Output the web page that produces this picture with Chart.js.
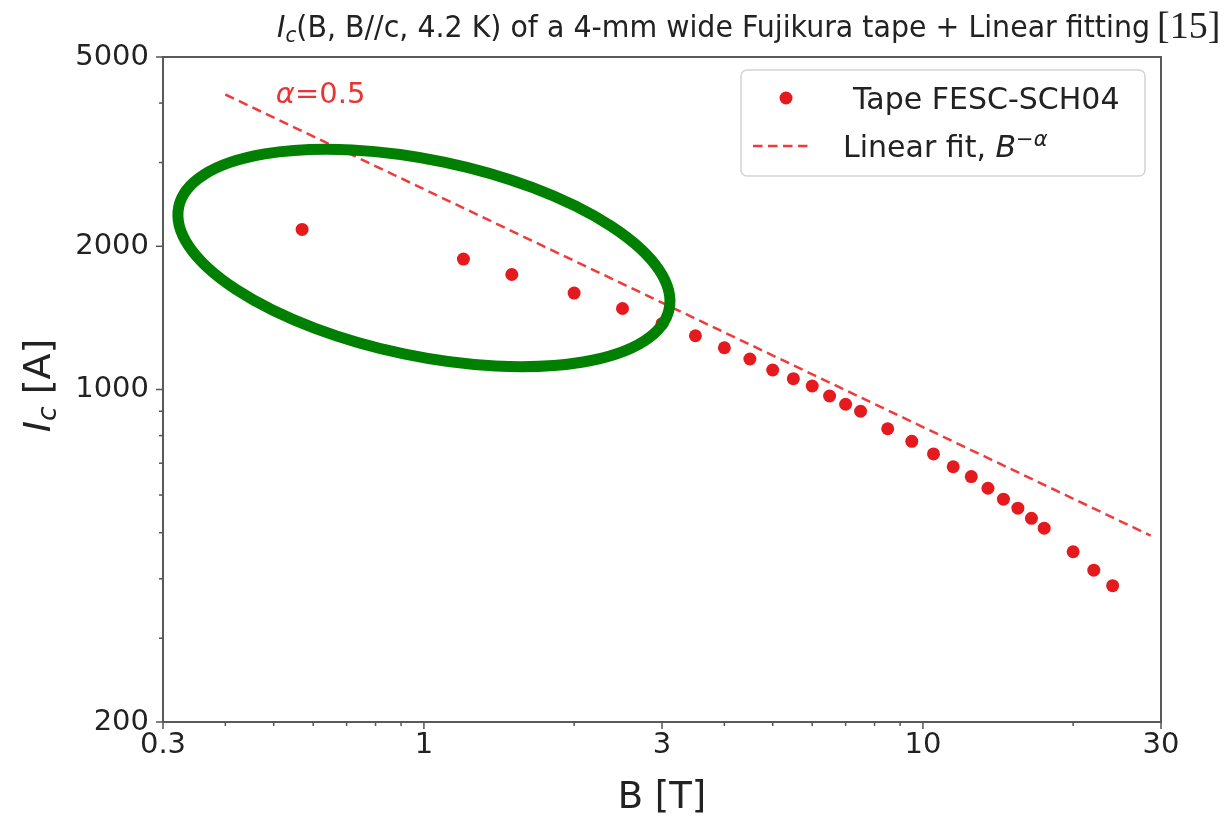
<!DOCTYPE html>
<html>
<head>
<meta charset="utf-8">
<script src="https://cdn.jsdelivr.net/npm/chart.js@4.4.1/dist/chart.umd.min.js"></script>
<style>
  html, body { margin: 0; padding: 0; background: #fff; }
  canvas { display: block; }
</style>
</head>
<body>
<canvas id="ic-chart" width="1226" height="816"></canvas>
<script>
// Ic(B) measured points, tape FESC-SCH04
const fieldB = [0.57, 1.2, 1.5, 2.0, 2.5, 3.0, 3.5, 4.0, 4.5, 5.0, 5.5, 6.0, 6.5, 7.0, 7.5,
                8.5, 9.5, 10.5, 11.5, 12.5, 13.5, 14.5, 15.5, 16.5, 17.5, 20, 22, 24];
const currentIc = [2170, 1880, 1745, 1595, 1480, 1375, 1297, 1224, 1159, 1099, 1054, 1017, 969, 931, 900,
                   827, 778, 732, 688, 656, 620, 588, 563, 536, 511, 456, 417, 387];

// linear fit in log-log, Ic ~ B^-alpha
const fitB = [0.4, 28.6];
const fitIc = [4170, 493];
const alphaText = '0.5';
const alphaLabelAt = [0.505, 4000];

// axes
const xTickLabels = [0.3, 1, 3, 10, 30];
const xMinorTicks = [0.4, 0.5, 0.6, 0.7, 0.8, 0.9, 2, 4, 5, 6, 7, 8, 9, 20];
const yTickLabels = [200, 1000, 2000, 5000];
const yMinorTicks = [300, 400, 500, 600, 700, 800, 900, 3000, 4000];

// green ring drawn over the low field points (centre in data units, radii in decades)
const ringCentre = [1.0, 1890];
const ringRadiusDecX = 0.502;
const ringRadiusDecY = 0.206;
const ringTiltDeg = 11.8;

const red = 'rgb(229, 26, 30)';
const fitRed = 'rgba(238, 48, 48, 0.95)';
const textCol = '#222';
const font = 'DejaVu Sans';

const ctx = document.getElementById('ic-chart').getContext('2d');

function drawMathLabel(c, x, y, parts, size) {
    // parts: [text, style] where style = 'it' | 'sub' | 'sup' | ''
    let cx = x;
    for (const [t, st] of parts) {
        let s = size, dy = 0, it = '';
        if (st.includes('it')) it = 'italic ';
        if (st.includes('sub')) { s = size * 0.7; dy = size * 0.15; }
        if (st.includes('sup')) { s = size * 0.7; dy = -size * 0.38; }
        c.font = it + s + 'px "' + font + '"';
        c.fillText(t, cx, y + dy);
        cx += c.measureText(t).width;
    }
    return cx - x;
}

function measureMath(c, parts, size) {
    let w = 0;
    for (const [t, st] of parts) {
        let s = size, it = '';
        if (st.includes('it')) it = 'italic ';
        if (st.includes('sub') || st.includes('sup')) s = size * 0.7;
        c.font = it + s + 'px "' + font + '"';
        w += c.measureText(t).width;
    }
    return w;
}

const decor = {
    id: 'decor',
    afterDraw(chart) {
        const c = chart.ctx;
        const area = chart.chartArea;
        const xs = chart.scales.x, ys = chart.scales.y;
        c.save();

        // frame
        c.strokeStyle = '#5a5a5a';
        c.lineWidth = 2;
        c.strokeRect(area.left, area.top, area.right - area.left, area.bottom - area.top);

        // tick marks
        c.lineWidth = 1.5;
        c.strokeStyle = '#555';
        const tickX = (v, len) => {
            const px = xs.getPixelForValue(v);
            c.beginPath(); c.moveTo(px, area.bottom); c.lineTo(px, area.bottom + len); c.stroke();
        };
        const tickY = (v, len) => {
            const py = ys.getPixelForValue(v);
            c.beginPath(); c.moveTo(area.left, py); c.lineTo(area.left - len, py); c.stroke();
        };
        xTickLabels.forEach(v => tickX(v, 7));
        xMinorTicks.forEach(v => tickX(v, 4));
        yTickLabels.forEach(v => tickY(v, 7));
        yMinorTicks.forEach(v => tickY(v, 4));

        // title, squeezed to the width it has in the figure
        c.fillStyle = textCol;
        c.textBaseline = 'alphabetic';
        c.textAlign = 'left';
        const titleParts = [['I', 'it'], ['c', 'it sub'], ['(B, B//c, 4.2 K) of a 4-mm wide Fujikura tape + Linear fitting', '']];
        const tw = measureMath(c, titleParts, 31);
        c.save();
        c.translate(277, 37);
        c.scale(873 / tw, 1);
        drawMathLabel(c, 0, 0, titleParts, 31);
        c.restore();
        c.font = '38px "Liberation Serif"';
        c.fillText('[15]', 1157, 38);

        // axis titles
        c.font = '37px "' + font + '"';
        c.textAlign = 'center';
        c.fillText('B [T]', (area.left + area.right) / 2, 808);
        c.textAlign = 'left';
        const yParts = [['I', 'it'], ['c', 'it sub'], [' [A]', '']];
        const yw = measureMath(c, yParts, 38);
        c.save();
        c.translate(50, (area.top + area.bottom) / 2 + yw / 2 - 4);
        c.rotate(-Math.PI / 2);
        drawMathLabel(c, 0, 0, yParts, 38);
        c.restore();

        // alpha annotation
        c.fillStyle = 'rgb(232, 52, 52)';
        drawMathLabel(c, xs.getPixelForValue(alphaLabelAt[0]), ys.getPixelForValue(alphaLabelAt[1]),
            [['\u03b1', 'it'], ['=' + alphaText, '']], 29);

        // legend
        const lx = 741, ly = 70, lw = 404, lh = 106;
        c.beginPath();
        c.roundRect(lx, ly, lw, lh, 6);
        c.fillStyle = 'rgba(255,255,255,0.8)';
        c.fill();
        c.strokeStyle = '#d4d4d4';
        c.lineWidth = 1.5;
        c.stroke();
        const ds = chart.data.datasets;
        c.fillStyle = ds[0].backgroundColor;
        c.beginPath(); c.arc(786, 98, 6.5, 0, Math.PI * 2); c.fill();
        c.strokeStyle = ds[1].borderColor;
        c.lineWidth = ds[1].borderWidth;
        c.setLineDash(ds[1].borderDash);
        c.beginPath(); c.moveTo(753, 146); c.lineTo(812, 146); c.stroke();
        c.setLineDash([]);
        c.fillStyle = textCol;
        c.font = '30px "' + font + '"';
        c.fillText(ds[0].label, 853, 109);
        drawMathLabel(c, 843, 157, [['Linear fit, ', ''], ['B', 'it'], ['\u2212\u03b1', 'it sup']], 30);

        // green ring
        const cx = xs.getPixelForValue(ringCentre[0]);
        const cy = ys.getPixelForValue(ringCentre[1]);
        const rx = xs.getPixelForValue(ringCentre[0] * Math.pow(10, ringRadiusDecX)) - cx;
        const ry = cy - ys.getPixelForValue(ringCentre[1] * Math.pow(10, ringRadiusDecY));
        c.strokeStyle = 'rgb(0, 128, 0)';
        c.lineWidth = 11;
        c.beginPath();
        c.ellipse(cx, cy, rx, ry, ringTiltDeg * Math.PI / 180, 0, Math.PI * 2);
        c.stroke();

        c.restore();
    }
};

const chart = new Chart(ctx, {
    type: 'scatter',
    data: {
        datasets: [{
            label: 'Tape FESC-SCH04',
            data: fieldB.map((b, i) => ({ x: b, y: currentIc[i] })),
            backgroundColor: red,
            borderWidth: 0,
            pointRadius: 6.5,
            order: 2
        }, {
            label: 'Linear fit',
            type: 'line',
            data: fitB.map((b, i) => ({ x: b, y: fitIc[i] })),
            borderColor: fitRed,
            borderWidth: 2.5,
            borderDash: [9.5, 5.5],
            pointRadius: 0,
            fill: false,
            order: 1
        }]
    },
    options: {
        responsive: false,
        animation: false,
        layout: { padding: { top: 57, right: 65, left: 0, bottom: 0 } },
        plugins: { legend: { display: false }, tooltip: { enabled: false } },
        scales: {
            x: {
                type: 'logarithmic',
                min: 0.3,
                max: 30,
                afterBuildTicks: s => { s.ticks = xTickLabels.map(v => ({ value: v })); },
                afterFit: s => { s.height = 94; },
                grid: { display: false, drawTicks: false },
                border: { display: false },
                ticks: {
                    autoSkip: false, maxRotation: 0, padding: 6,
                    color: textCol, font: { family: font, size: 29 },
                    callback: v => String(v)
                }
            },
            y: {
                type: 'logarithmic',
                min: 200,
                max: 5000,
                afterBuildTicks: s => { s.ticks = yTickLabels.map(v => ({ value: v })); },
                afterFit: s => { s.width = 163; },
                grid: { display: false, drawTicks: false },
                border: { display: false },
                ticks: {
                    autoSkip: false, padding: 14,
                    color: textCol, font: { family: font, size: 29 },
                    callback: v => String(v)
                }
            }
        }
    },
    plugins: [decor]
});
</script>
</body>
</html>
